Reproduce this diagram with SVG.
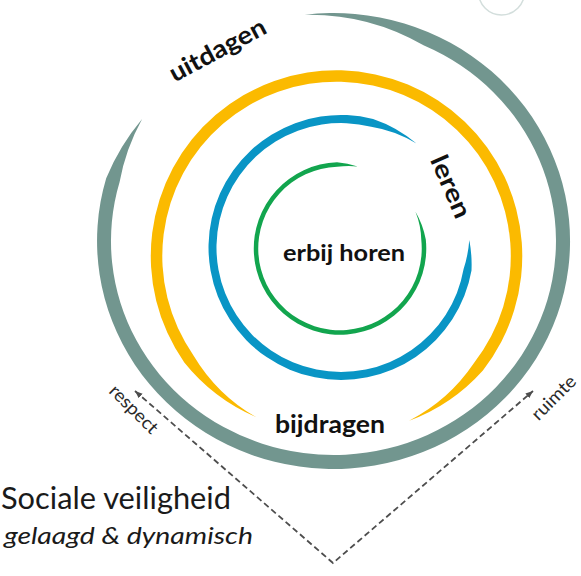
<svg xmlns="http://www.w3.org/2000/svg" width="581" height="576" viewBox="0 0 581 576">
<defs>
<style>
.lbl{font-family:Lato,"Liberation Sans",sans-serif;font-weight:700;fill:#111}
.small{font-family:Lato,"Liberation Sans",sans-serif;font-size:18px;fill:#2a2a2a}
.title{font-family:Lato,"Liberation Sans",sans-serif;fill:#1a1a1a}
.conn{fill:none;stroke:#4d4d4d;stroke-width:1.8;stroke-dasharray:6 3.5}
</style>
<marker id="arr" markerUnits="userSpaceOnUse" markerWidth="9" markerHeight="7" refX="7.5" refY="3" orient="auto-start-reverse">
<path d="M0,0 L7.5,3 L0,6 z" fill="#4d4d4d"/>
</marker>
</defs>
<rect width="581" height="576" fill="#fff"/>
<circle cx="501.5" cy="-8" r="23" fill="none" stroke="#d3dedc" stroke-width="1.5"/>
<g id="ring-uitdagen">
<path fill="#72968f" d="M304.7 14.7 A236.5 228 0 1 1 106.2 178.2 A236.5 228 0 0 1 142.1 119 A222.5 214 0 0 0 119.6 182 A222.5 214 0 1 0 424 45.5 A222.5 214 0 0 0 304.7 14.7 Z"/>
<text class="lbl" font-size="25" text-anchor="middle" textLength="106" lengthAdjust="spacingAndGlyphs" transform="translate(221.5 57.5) rotate(-28)">uitdagen</text>
</g>
<g id="ring-bijdragen">
<path fill="#fbba00" d="M255.9 417 A185.75 185.75 0 0 1 184.3 362.5 A185.75 185.75 0 1 1 482.9 370.4 A185.75 185.75 0 0 1 409.1 420.7 A174.25 174.25 0 0 0 473.8 363.3 A174.25 174.25 0 1 0 193.8 355.9 A174.25 174.25 0 0 0 255.9 417 Z"/>
<text class="lbl" font-size="25" x="330" y="433" text-anchor="middle" textLength="110" lengthAdjust="spacingAndGlyphs">bijdragen</text>
</g>
<g id="ring-leren">
<path fill="#0995c5" d="M469.3 239.9 A132.5 132.5 0 0 1 471.5 270.5 A132.5 132.5 0 1 1 373.1 118.9 A132.5 132.5 0 0 1 416.5 143.5 A124.5 124.5 0 0 0 371.1 126.7 A124.5 124.5 0 1 0 463.6 269.1 A124.5 124.5 0 0 0 469.3 239.9 Z"/>
<text class="lbl" font-size="25" text-anchor="middle" textLength="66" lengthAdjust="spacingAndGlyphs" transform="translate(443 190) rotate(66.5)">leren</text>
</g>
<g id="ring-erbij-horen">
<path fill="#12a54e" d="M415.5 211.7 A86.25 86.25 0 0 1 425.8 239.5 A86.25 86.25 0 1 1 337 162.3 A86.25 86.25 0 0 1 357.7 166.4 A81.75 81.75 0 0 0 337.1 166.8 A81.75 81.75 0 1 0 421.3 240 A81.75 81.75 0 0 0 415.5 211.7 Z"/>
<text class="lbl" font-size="23" x="344" y="261" text-anchor="middle" textLength="122" lengthAdjust="spacingAndGlyphs">erbij horen</text>
</g>
<g id="connectors">
<path class="conn" d="M135 391 L333 563 L533 391" marker-start="url(#arr)" marker-end="url(#arr)"/>
</g>
<g id="label-respect">
<text class="small" text-anchor="middle" textLength="61" lengthAdjust="spacingAndGlyphs" transform="translate(129.5 413.5) rotate(45)">respect</text>
</g>
<g id="label-ruimte">
<text class="small" text-anchor="middle" textLength="55" lengthAdjust="spacingAndGlyphs" transform="translate(558 402) rotate(-45)">ruimte</text>
</g>
<g id="title">
<text class="title" font-size="31" x="1" y="509" textLength="230" lengthAdjust="spacingAndGlyphs">Sociale veiligheid</text>
<text class="title" font-size="24" font-style="italic" x="4" y="544" textLength="249" lengthAdjust="spacingAndGlyphs">gelaagd &amp; dynamisch</text>
</g>
</svg>
